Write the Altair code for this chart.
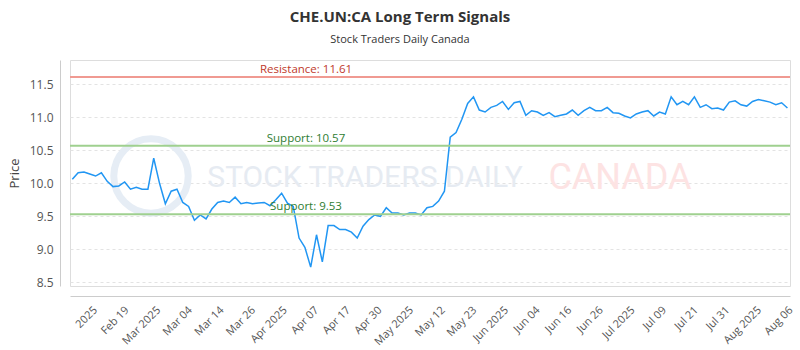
import altair as alt
import pandas as pd

# ---- data ----
prices = [
    10.06, 10.16, 10.17, 10.14, 10.11, 10.16, 10.03, 9.95, 9.96, 10.02,
    9.91, 9.94, 9.91, 9.91, 10.38, 10.00, 9.69, 9.88, 9.91, 9.71,
    9.65, 9.44, 9.52, 9.46, 9.61, 9.71, 9.73, 9.71, 9.79, 9.69,
    9.71, 9.69, 9.70, 9.71, 9.66, 9.75, 9.85, 9.70, 9.65, 9.17,
    9.03, 8.73, 9.22, 8.81, 9.36, 9.36, 9.30, 9.30, 9.26, 9.17,
    9.35, 9.45, 9.52, 9.50, 9.63, 9.55, 9.55, 9.52, 9.55, 9.55,
    9.52, 9.63, 9.65, 9.73, 9.88, 10.70, 10.77, 10.97, 11.21, 11.31,
    11.11, 11.08, 11.15, 11.18, 11.24, 11.12, 11.22, 11.24, 11.03, 11.10,
    11.08, 11.03, 11.07, 11.01, 11.03, 11.05, 11.11, 11.03, 11.10, 11.15,
    11.10, 11.10, 11.15, 11.07, 11.06, 11.02, 10.99, 11.05, 11.08, 11.10,
    11.02, 11.08, 11.05, 11.31, 11.19, 11.24, 11.19, 11.31, 11.15, 11.19,
    11.13, 11.14, 11.11, 11.23, 11.25, 11.19, 11.17, 11.24, 11.27, 11.25,
    11.23, 11.19, 11.22, 11.14,
]
tick_labels = [
    "2025", "Feb 19", "Mar 2025", "Mar 04", "Mar 14", "Mar 26", "Apr 2025",
    "Apr 07", "Apr 17", "Apr 30", "May 2025", "May 12", "May 23", "Jun 2025",
    "Jun 04", "Jun 16", "Jun 26", "Jul 2025", "Jul 09", "Jul 21", "Jul 31",
    "Aug 2025", "Aug 06",
]
level_names = ["Resistance", "Support", "Support"]
level_values = [11.61, 10.57, 9.53]
level_kinds = ["resistance", "support", "support"]
y_ticks = [8.5, 9.0, 9.5, 10.0, 10.5, 11.0, 11.5]

df = pd.DataFrame({"i": list(range(len(prices))), "price": prices})
levels = pd.DataFrame({
    "value": level_values,
    "kind": level_kinds,
    "label": [f"{n}: {v:.2f}" for n, v in zip(level_names, level_values)],
})
one = pd.DataFrame({"a": [0]})

TICK0, TICK_STEP = 3.22, 5.438
tick_vals = [round(TICK0 + TICK_STEP * k, 3) for k in range(len(tick_labels))]
label_arr = "[" + ",".join(f"'{t}'" for t in tick_labels) + "]"
label_expr = f"{label_arr}[round((datum.value - {TICK0}) / {TICK_STEP})]"

FONT = "Open Sans"
x_scale = alt.Scale(domain=[-0.4, 123.44], nice=False, zero=False)
y_scale = alt.Scale(domain=[8.444, 11.868], nice=False, zero=False)

x_axis = alt.Axis(
    values=tick_vals, labelExpr=label_expr, labelAngle=-45, title=None,
    grid=False, ticks=False, offset=10, domainColor="#cccccc",
    labelColor="#555555", labelFontSize=11, labelFont=FONT, labelPadding=8,
    labelOverlap=False,
)


def y_axis():
    return alt.Axis(
        values=y_ticks, format=".1f", title="Price", grid=True, gridDash=[3, 3],
        gridColor="#e3e3e3", ticks=False, offset=10, domainColor="#cccccc",
        labelColor="#555555", labelFontSize=12, labelFont=FONT, labelPadding=7,
        labelOverlap=False, titleFontSize=13, titleFontWeight="normal",
        titleColor="#444444", titleFont=FONT, titlePadding=8,
    )


kind_color = alt.Scale(domain=["resistance", "support"], range=["#f09a92", "#9fd08f"])
text_color = alt.Scale(domain=["resistance", "support"], range=["#c0392b", "#2e7d32"])

# watermark
logo = alt.Chart(one).mark_point(
    shape="circle", size=5540, filled=False, stroke="#e6edf5", strokeWidth=7, opacity=1
).encode(x=alt.value(81), y=alt.value(116))
wm1 = alt.Chart(one).mark_text(
    text="STOCK TRADERS DAILY", font="Roboto", fontSize=30, color="#e6ebf2",
    align="center", baseline="middle"
).encode(x=alt.value(295), y=alt.value(118))
wm2 = alt.Chart(one).mark_text(
    text="CANADA", font="Roboto", fontSize=36, color="#fde3e3",
    align="center", baseline="middle"
).encode(x=alt.value(550), y=alt.value(118))

line = alt.Chart(df).mark_line(color="#2196f3", strokeWidth=1.5).encode(
    x=alt.X("i:Q", scale=x_scale, axis=x_axis),
    y=alt.Y("price:Q", scale=y_scale, axis=y_axis()),
)

rules = alt.Chart(levels).mark_rule(strokeWidth=2).encode(
    y=alt.Y("value:Q", scale=y_scale, axis=y_axis()),
    color=alt.Color("kind:N", scale=kind_color, legend=None),
)
labels = alt.Chart(levels).mark_text(
    align="center", baseline="bottom", dy=-2, fontSize=11.5, font=FONT
).encode(
    x=alt.value(236),
    y=alt.Y("value:Q", scale=y_scale, axis=y_axis()),
    text="label:N",
    color=alt.Color("kind:N", scale=text_color, legend=None),
)

chart = alt.layer(logo, wm1, wm2, line, rules, labels).resolve_scale(color="independent").properties(
    width=720,
    height=226,
    autosize=alt.AutoSizeParams(type="none"),
    padding={"left": 70, "top": 60, "right": 10, "bottom": 64},
    title=alt.TitleParams(
        text="CHE.UN:CA Long Term Signals",
        subtitle="Stock Traders Daily Canada",
        font=FONT, subtitleFont=FONT, fontSize=15, subtitleFontSize=11,
        fontWeight="bold", color="#333333", subtitleColor="#333333",
        anchor="middle", dx=-30, offset=15, subtitlePadding=9,
    ),
).configure_view(stroke="#888888", strokeWidth=1).configure(background="white")

chart.save("out.html", embed_options={"renderer": "svg", "actions": False})
